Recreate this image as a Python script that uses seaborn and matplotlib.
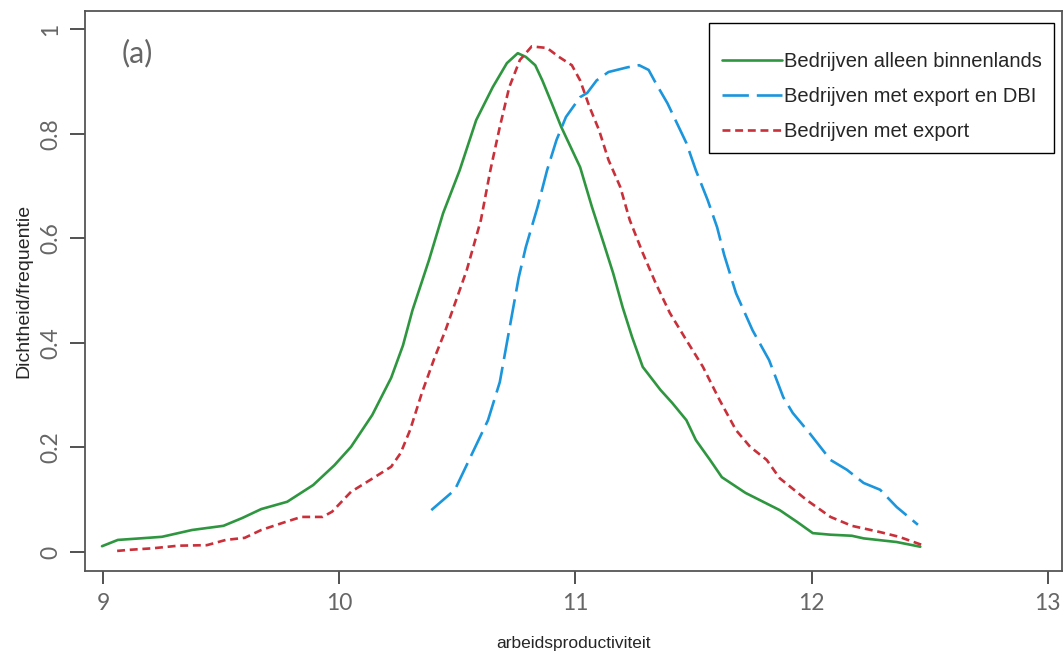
import matplotlib.pyplot as plt
import pandas as pd
import seaborn as sns

# Dichtheid van (log) arbeidsproductiviteit per groep bedrijven
binnen_x = [8.996, 9.063, 9.19, 9.25, 9.377, 9.51, 9.59, 9.67, 9.78, 9.89, 9.98, 10.05, 10.14,
            10.22, 10.27, 10.31, 10.38, 10.44, 10.51, 10.58, 10.65, 10.71, 10.756, 10.79, 10.83,
            10.86, 10.90, 10.94, 11.02, 11.07, 11.12, 11.16, 11.20, 11.24, 11.285, 11.36, 11.41,
            11.47, 11.51, 11.57, 11.62, 11.72, 11.865, 11.94, 12.005, 12.08, 12.17, 12.22, 12.36,
            12.46]
binnen_y = [0.011, 0.023, 0.027, 0.029, 0.042, 0.050, 0.065, 0.082, 0.096, 0.128, 0.166, 0.201,
            0.262, 0.333, 0.395, 0.462, 0.558, 0.648, 0.73, 0.826, 0.889, 0.935, 0.954, 0.947,
            0.931, 0.902, 0.858, 0.813, 0.736, 0.66, 0.59, 0.533, 0.468, 0.411, 0.354, 0.31,
            0.285, 0.252, 0.214, 0.176, 0.143, 0.113, 0.080, 0.057, 0.036, 0.033, 0.031, 0.026,
            0.019, 0.010]

dbi_x = [10.39, 10.49, 10.55, 10.63, 10.68, 10.72, 10.76, 10.79, 10.84, 10.88, 10.92, 10.96,
         11.02, 11.05, 11.09, 11.14, 11.22, 11.27, 11.31, 11.34, 11.39, 11.43, 11.47, 11.51,
         11.56, 11.60, 11.63, 11.68, 11.75, 11.82, 11.88, 11.92, 11.99, 12.08, 12.15, 12.22,
         12.29, 12.36, 12.45]
dbi_y = [0.080, 0.119, 0.176, 0.252, 0.325, 0.425, 0.525, 0.583, 0.66, 0.73, 0.788, 0.832, 0.87,
         0.878, 0.902, 0.918, 0.927, 0.931, 0.922, 0.897, 0.858, 0.82, 0.782, 0.73, 0.673, 0.621,
         0.568, 0.495, 0.424, 0.367, 0.296, 0.266, 0.228, 0.176, 0.157, 0.132, 0.119, 0.086,
         0.052]

export_x = [9.06, 9.11, 9.21, 9.32, 9.44, 9.52, 9.60, 9.67, 9.77, 9.84, 9.93, 9.97, 10.05, 10.15,
            10.22, 10.26, 10.30, 10.35, 10.405, 10.45, 10.54, 10.60, 10.64, 10.68, 10.72, 10.765,
            10.815, 10.88, 10.93, 10.985, 11.02, 11.06, 11.10, 11.14, 11.19, 11.23, 11.285, 11.34,
            11.40, 11.47, 11.54, 11.61, 11.68, 11.74, 11.81, 11.865, 11.98, 12.08, 12.17, 12.29,
            12.37, 12.47]
export_y = [0.002, 0.004, 0.007, 0.012, 0.013, 0.023, 0.027, 0.042, 0.057, 0.067, 0.067, 0.077,
            0.115, 0.143, 0.163, 0.189, 0.233, 0.304, 0.373, 0.424, 0.539, 0.635, 0.73, 0.813,
            0.889, 0.941, 0.967, 0.964, 0.947, 0.931, 0.902, 0.851, 0.807, 0.75, 0.698, 0.635,
            0.572, 0.514, 0.457, 0.405, 0.354, 0.291, 0.233, 0.201, 0.176, 0.141, 0.099, 0.067,
            0.050, 0.038, 0.029, 0.013]

groepen = ['Bedrijven alleen binnenlands', 'Bedrijven met export en DBI', 'Bedrijven met export']
x_ticks = [9, 10, 11, 12, 13]
y_ticks = [0, 0.2, 0.4, 0.6, 0.8, 1]
y_ticklabels = ['0', '0.2', '0.4', '0.6', '0.8', '1']

sns.set_style('white')
plt.rcParams['font.family'] = ['Liberation Sans', 'DejaVu Sans']

df = pd.concat([
    pd.DataFrame({'x': binnen_x, 'y': binnen_y, 'groep': groepen[0]}),
    pd.DataFrame({'x': dbi_x, 'y': dbi_y, 'groep': groepen[1]}),
    pd.DataFrame({'x': export_x, 'y': export_y, 'groep': groepen[2]}),
])

kleuren = {groepen[0]: '#2f9640', groepen[1]: '#1b95dc', groepen[2]: '#c9303a'}
streep = {groepen[0]: (None, None), groepen[1]: (10, 3), groepen[2]: (3, 1.8)}

fig = plt.figure(figsize=(10.64, 6.57), dpi=100)
ax = fig.add_axes([0.0799, 0.131, 0.918, 0.852])

for g in groepen:
    sub = df[df['groep'] == g]
    sns.lineplot(data=sub, x='x', y='y', ax=ax, color=kleuren[g], linewidth=1.9,
                 estimator=None, sort=False, label=g)
    ln = ax.get_lines()[-1]
    ln.set_solid_joinstyle('round')
    if streep[g][0] is not None:
        ln.set_dashes(streep[g])

ax.set_xlim(8.924, 13.059)
ax.set_ylim(-0.0363, 1.0344)
ax.set_xticks(x_ticks)
ax.set_yticks(y_ticks)
ax.set_xticklabels([str(t) for t in x_ticks])
ax.set_yticklabels(y_ticklabels)

tick_font = dict(family=['Lato', 'DejaVu Sans'], weight='normal', size=16.5)
for lab in ax.get_xticklabels():
    lab.set(color='#666666', **tick_font)
for lab in ax.get_yticklabels():
    lab.set(color='#666666', rotation=90, va='center', **tick_font)

ax.tick_params(axis='x', direction='out', length=9, width=1.2, color='#333333', pad=7,
               bottom=True)
ax.tick_params(axis='y', direction='out', length=11, width=1.2, color='#333333', pad=6,
               left=True)
for sp in ax.spines.values():
    sp.set_color('#555555')
    sp.set_linewidth(1.3)

ax.set_xlabel('arbeidsproductiviteit', fontsize=12.5, labelpad=16)
ax.set_ylabel('Dichtheid/frequentie', fontsize=14, labelpad=6)

ax.text(9.08, 0.955, '(a)', fontsize=22, color='#666666', ha='left', va='center',
        family=['Lato', 'DejaVu Sans'], fontweight='normal')

leg = ax.legend(loc='upper right', bbox_to_anchor=(0.992, 0.979), borderaxespad=0,
                fontsize=14.5, handlelength=3.0, handletextpad=0.1, borderpad=0.6,
                labelspacing=0.8, fancybox=False, framealpha=1, edgecolor='black',
                title=' ', title_fontsize=1)
leg.get_frame().set_linewidth(1.0)

fig.savefig('out.png', dpi=100)
